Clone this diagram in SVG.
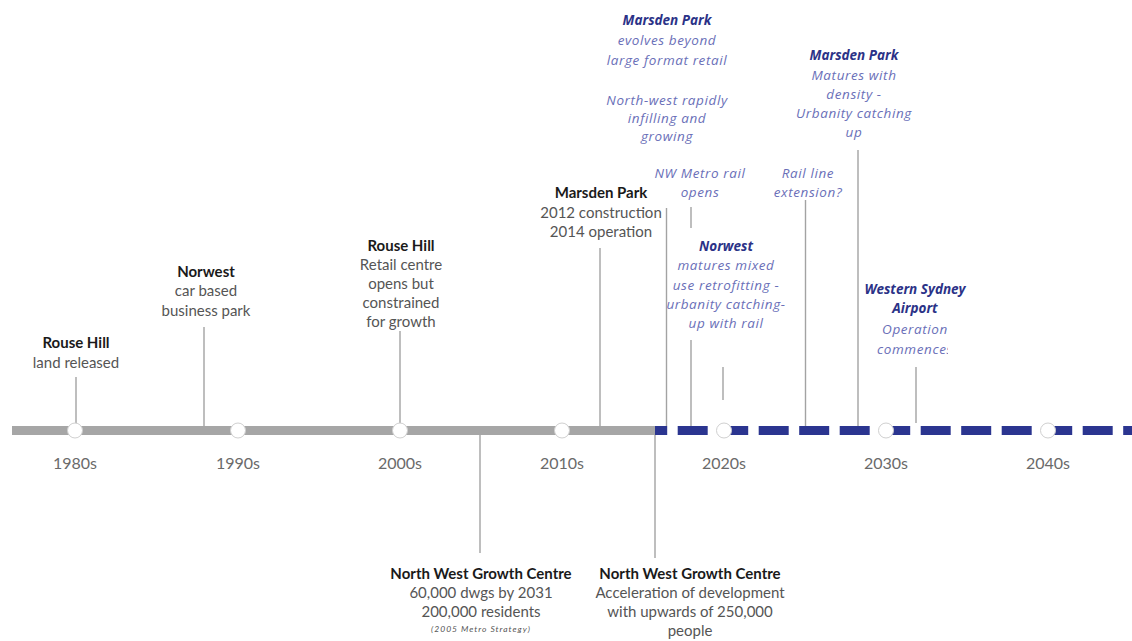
<svg xmlns="http://www.w3.org/2000/svg" width="1132" height="641" viewBox="0 0 1132 641">
<style>
.t{font-family:Lato,"Liberation Sans",sans-serif;font-size:15px;fill:#555555;text-anchor:middle}
.tb{font-family:Lato,"Liberation Sans",sans-serif;font-size:15px;font-weight:bold;fill:#1a1a1a;text-anchor:middle}
.sm{font-family:Lato,"Liberation Sans",sans-serif;font-size:8.5px;letter-spacing:1px;font-style:italic;fill:#555555;text-anchor:middle}
.yr{font-family:Lato,"Liberation Sans",sans-serif;font-size:16px;fill:#6a6a6a;text-anchor:middle}
.b{font-family:"Open Sans","Noto Sans",sans-serif;font-size:13.5px;letter-spacing:0.6px;font-style:italic;fill:#6a6fb8;text-anchor:middle}
.bb{font-family:"Open Sans","Noto Sans",sans-serif;font-size:13.5px;font-style:italic;font-weight:bold;fill:#2b3287;text-anchor:middle}
.c{stroke:#a3a3a3;stroke-width:1.4;fill:none}
.dot{fill:#ffffff;stroke:#d0d0d0;stroke-width:1}
</style>
<defs>
<clipPath id="clipW"><rect x="860" y="270" width="88" height="100"/></clipPath>
</defs>
<rect width="1132" height="641" fill="#ffffff"/>

<g id="timeline">
<line x1="12" y1="430.5" x2="655" y2="430.5" stroke="#a6a6a6" stroke-width="9"/>
<line x1="655" y1="430.5" x2="1132" y2="430.5" stroke="#2b3590" stroke-width="9" stroke-dasharray="30 10.5" stroke-dashoffset="17.8"/>
</g>

<g id="connectors">
<line class="c" x1="76" y1="377" x2="76" y2="426"/>
<line class="c" x1="204" y1="327" x2="204" y2="426"/>
<line class="c" x1="400" y1="331" x2="400" y2="426"/>
<line class="c" x1="600" y1="248" x2="600" y2="426"/>
<line class="c" x1="666.5" y1="208" x2="666.5" y2="426"/>
<line class="c" x1="691" y1="207" x2="691" y2="228"/>
<line class="c" x1="691" y1="340" x2="691" y2="426"/>
<line class="c" x1="723" y1="367" x2="723" y2="400"/>
<line class="c" x1="805.5" y1="200" x2="805.5" y2="426"/>
<line class="c" x1="858" y1="150" x2="858" y2="426"/>
<line class="c" x1="916" y1="367" x2="916" y2="423"/>
<line class="c" x1="480" y1="435" x2="480" y2="553"/>
<line class="c" x1="655" y1="435" x2="655" y2="558"/>
</g>

<g id="decade-markers">
<circle class="dot" cx="75" cy="430.5" r="7.5"/>
<circle class="dot" cx="238" cy="430.5" r="7.5"/>
<circle class="dot" cx="400" cy="430.5" r="7.5"/>
<circle class="dot" cx="562" cy="430.5" r="7.5"/>
<circle class="dot" cx="724" cy="430.5" r="7.5"/>
<circle class="dot" cx="886" cy="430.5" r="7.5"/>
<circle class="dot" cx="1048" cy="430.5" r="7.5"/>
<text class="yr" x="75" y="469">1980s</text>
<text class="yr" x="238" y="469">1990s</text>
<text class="yr" x="400" y="469">2000s</text>
<text class="yr" x="562" y="469">2010s</text>
<text class="yr" x="724" y="469">2020s</text>
<text class="yr" x="886" y="469">2030s</text>
<text class="yr" x="1048" y="469">2040s</text>
</g>

<g id="rouse-hill-land">
<text class="tb" x="76" y="348">Rouse Hill</text>
<text class="t" x="76" y="368">land released</text>
</g>

<g id="norwest-business-park">
<text class="tb" x="206" y="277">Norwest</text>
<text class="t" x="206" y="296">car based</text>
<text class="t" x="206" y="316">business park</text>
</g>

<g id="rouse-hill-retail">
<text class="tb" x="401" y="251">Rouse Hill</text>
<text class="t" x="401" y="270">Retail centre</text>
<text class="t" x="401" y="289">opens but</text>
<text class="t" x="401" y="308">constrained</text>
<text class="t" x="401" y="327">for growth</text>
</g>

<g id="marsden-park-construction">
<text class="tb" x="601" y="198">Marsden Park</text>
<text class="t" x="601" y="218">2012 construction</text>
<text class="t" x="601" y="237">2014 operation</text>
</g>

<g id="nwgc-2005">
<text class="tb" x="481" y="579">North West Growth Centre</text>
<text class="t" x="481" y="598">60,000 dwgs by 2031</text>
<text class="t" x="481" y="617">200,000 residents</text>
<text class="sm" x="481" y="632">(2005 Metro Strategy)</text>
</g>

<g id="nwgc-acceleration">
<text class="tb" x="690" y="579">North West Growth Centre</text>
<text class="t" x="690" y="598">Acceleration of development</text>
<text class="t" x="690" y="617">with upwards of 250,000</text>
<text class="t" x="690" y="636">people</text>
</g>

<g id="marsden-park-evolves">
<text class="bb" x="667" y="25">Marsden Park</text>
<text class="b" x="667" y="45">evolves beyond</text>
<text class="b" x="667" y="65">large format retail</text>
<text class="b" x="667" y="105">North-west rapidly</text>
<text class="b" x="667" y="123">infilling and</text>
<text class="b" x="667" y="141">growing</text>
</g>

<g id="nw-metro">
<text class="b" x="700" y="178">NW Metro rail</text>
<text class="b" x="700" y="197">opens</text>
</g>

<g id="rail-extension">
<text class="b" x="808" y="178">Rail line</text>
<text class="b" x="808" y="197">extension?</text>
</g>

<g id="marsden-park-matures">
<text class="bb" x="854" y="60">Marsden Park</text>
<text class="b" x="854" y="80">Matures with</text>
<text class="b" x="854" y="99">density -</text>
<text class="b" x="854" y="118">Urbanity catching</text>
<text class="b" x="854" y="137">up</text>
</g>

<g id="norwest-matures">
<text class="bb" x="726" y="251">Norwest</text>
<text class="b" x="726" y="270">matures mixed</text>
<text class="b" x="726" y="290">use retrofitting -</text>
<text class="b" x="726" y="309">urbanity catching-</text>
<text class="b" x="726" y="328">up with rail</text>
</g>

<g id="western-sydney-airport">
<text class="bb" x="915" y="294">Western Sydney</text>
<text class="bb" x="915" y="313">Airport</text>
<text class="b" x="915" y="334">Operation</text>
<text class="b" x="915" y="354" clip-path="url(#clipW)">commences</text>
</g>
</svg>
